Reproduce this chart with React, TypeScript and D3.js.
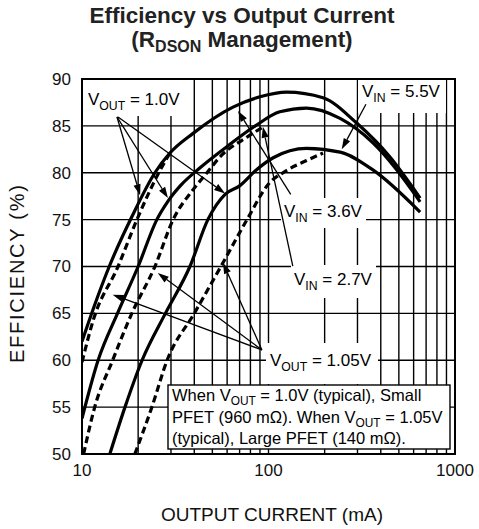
import React from "react";
import * as d3 from "d3";

// axis ticks
const xTickLabels = [10, 100, 1000];
const yTickLabels = [50, 55, 60, 65, 70, 75, 80, 85, 90];
const xGrid = [20, 30, 40, 50, 60, 70, 80, 90, 100, 200, 300, 400, 500, 600, 700, 800, 900];

// VOUT = 1.0V (solid), small PFET
const s27I = [10, 11.5, 14, 18.5, 24.6, 29.6, 39.4, 64.5, 90, 125, 196, 297, 447, 650];
const s27E = [62, 65.5, 70, 75.3, 80, 82.1, 84.2, 87, 88.1, 88.6, 88, 85.3, 81.7, 77.3];
const s36I = [10, 12.2, 15.5, 20, 25.2, 29, 34, 42.8, 60, 85, 115, 160, 242, 363, 650];
const s36E = [53.8, 60, 65, 70, 75, 77, 78.7, 80.5, 82.8, 85, 86.5, 86.9, 85.8, 83.2, 76.9];
const s55I = [14.1, 17, 21, 28, 37.9, 47.3, 58.5, 70, 86, 106, 160, 242, 363, 650];
const s55E = [50, 55, 60, 65, 70, 75, 77.7, 78.6, 80.3, 81.6, 82.6, 82.2, 80.3, 75.8];

// VOUT = 1.05V (dashed), large PFET
const d27I = [10, 11.5, 15.6, 19.7, 25.8, 29.6];
const d27E = [59.8, 64.3, 70, 75, 80, 82.1];
const d36I = [10.2, 11.7, 14.6, 18.5, 24.6, 30.8, 39.4, 46.8, 55, 76.7, 92];
const d36E = [50, 55, 60, 65, 70, 75, 78.2, 80, 81.7, 83.8, 84.8];
const d55I = [19.2, 23.7, 28.6, 40, 57, 76.7, 100, 124, 160, 196];
const d55E = [50, 55, 60, 65, 70.4, 75, 78.8, 80.2, 81.3, 82.1];

const curves = [
  { i: s27I, e: s27E, dash: false },
  { i: s36I, e: s36E, dash: false },
  { i: s55I, e: s55E, dash: false },
  { i: d27I, e: d27E, dash: true },
  { i: d36I, e: d36E, dash: true },
  { i: d55I, e: d55E, dash: true },
];

// annotation arrows: [fromI, fromE, toI, toE]
const arrowsVout10 = [[15.4, 85.95, 20.5, 77.6], [15.4, 85.95, 28.9, 77.3], [15.6, 85.95, 58.5, 77.8]];
const arrowsVout105 = [[92.2, 61.1, 14.6, 67.0], [92.2, 61.1, 25.5, 69.3], [92.2, 61.1, 57, 70.4]];
const arrowsVin55 = [[333, 87.3, 247, 82.5]];
const arrowsVin36 = [[131.6, 77.7, 68.6, 86.6]];
const arrowsVin27 = [[135, 70.05, 93.3, 84.9]];

const FONT = "'Liberation Sans', Arial, Helvetica, sans-serif";

const Arrow = ({ x1, y1, x2, y2 }) => {
  const a = Math.atan2(y2 - y1, x2 - x1);
  const L = 11, w = 3.6;
  const bx = x2 - L * Math.cos(a), by = y2 - L * Math.sin(a);
  const pts = [
    [x2, y2],
    [bx + w * Math.sin(a), by - w * Math.cos(a)],
    [bx - w * Math.sin(a), by + w * Math.cos(a)],
  ];
  return (
    <g>
      <line x1={x1} y1={y1} x2={bx} y2={by} stroke="#000" strokeWidth={1.3} />
      <polygon points={pts.map((p) => p.join(",")).join(" ")} fill="#000" />
    </g>
  );
};

const SubLabel = ({ x, y, main, sub, rest, size = 17, shift = 5 }) => (
  <text x={x} y={y} fontSize={size}>
    {main}
    <tspan fontSize={size * 0.72} dy={shift}>{sub}</tspan>
    <tspan dy={-shift}>{rest}</tspan>
  </text>
);

export default function App() {
  const width = 479, height = 529;
  const left = 82, right = 455, top = 79, bottom = 454;

  const x = d3.scaleLog().domain([10, 1000]).range([left, right]);
  const y = d3.scaleLinear().domain([50, 90]).range([bottom, top]);

  const line = d3
    .line()
    .x((d) => x(d[0]))
    .y((d) => y(d[1]))
    .curve(d3.curveMonotoneX);

  const arrows = (list) =>
    list.map((a, k) => <Arrow key={k} x1={x(a[0])} y1={y(a[1])} x2={x(a[2])} y2={y(a[3])} />);

  return (
    <svg width={width} height={height} style={{ position: "absolute", left: 0, top: 0, background: "#fff" }} fontFamily={FONT}>
      <defs>
        <clipPath id="plot">
          <rect x={left} y={top} width={right - left} height={bottom - top} />
        </clipPath>
      </defs>

      {/* title */}
      <text x={242} y={23} textAnchor="middle" fontSize={22.5} fontWeight="bold" fill="#222">
        Efficiency vs Output Current
      </text>
      <text x={242} y={47} textAnchor="middle" fontSize={22.5} fontWeight="bold" fill="#222">
        (R<tspan fontSize={16} dy={5}>DSON</tspan>
        <tspan dy={-5}> Management)</tspan>
      </text>

      {/* grid */}
      <g stroke="#000" strokeWidth={1.4}>
        {yTickLabels.slice(1, -1).map((v) => (
          <line key={v} x1={left} x2={right} y1={y(v)} y2={y(v)} />
        ))}
        {xGrid.map((v) => (
          <line key={v} x1={x(v)} x2={x(v)} y1={top} y2={bottom} />
        ))}
      </g>

      {/* white label areas */}
      <g fill="#fff">
        <rect x={83} y={80} width={105} height={36} />
        <rect x={358} y={80} width={88} height={33} />
        <rect x={281} y={198} width={85} height={30} />
        <rect x={291} y={265} width={85} height={33} />
        <rect x={266} y={343} width={112} height={41} />
      </g>

      {/* curves */}
      <g clipPath="url(#plot)" fill="none" stroke="#000" strokeWidth={3.2}>
        {curves.map((c, k) => (
          <path
            key={k}
            d={line(c.i.map((v, j) => [v, c.e[j]]))}
            strokeDasharray={c.dash ? "7,4" : null}
          />
        ))}
      </g>

      {/* note box */}
      <rect x={168} y={385} width={282} height={64} fill="#fff" stroke="#000" strokeWidth={1.4} />
      <g fontSize={16.5}>
        <SubLabel x={172} y={401} size={16.5} shift={4} main="When V" sub="OUT" rest=" = 1.0V (typical), Small" />
        <SubLabel x={172} y={423} size={16.5} shift={4} main="PFET (960 mΩ). When V" sub="OUT" rest=" = 1.05V" />
        <text x={172} y={444}>(typical), Large PFET (140 mΩ).</text>
      </g>

      {/* annotations */}
      {arrows(arrowsVout10)}
      {arrows(arrowsVout105)}
      {arrows(arrowsVin55)}
      {arrows(arrowsVin36)}
      {arrows(arrowsVin27)}
      <SubLabel x={88} y={105} main="V" sub="OUT" rest=" = 1.0V" />
      <SubLabel x={362} y={97} main="V" sub="IN" rest=" = 5.5V" />
      <SubLabel x={284} y={217} main="V" sub="IN" rest=" = 3.6V" />
      <SubLabel x={294} y={285} main="V" sub="IN" rest=" = 2.7V" />
      <SubLabel x={270} y={366} main="V" sub="OUT" rest=" = 1.05V" />

      {/* border */}
      <rect x={left} y={top} width={right - left} height={bottom - top} fill="none" stroke="#000" strokeWidth={2} />

      {/* axes labels */}
      <g fontSize={17} fill="#111">
        {yTickLabels.map((v) => (
          <text key={v} x={71} y={y(v)} dy="0.35em" textAnchor="end">{v}</text>
        ))}
        {xTickLabels.map((v) => (
          <text key={v} x={x(v)} y={476} textAnchor="middle">{v}</text>
        ))}
      </g>
      <text x={272} y={521} textAnchor="middle" fontSize={19} fill="#111">OUTPUT CURRENT (mA)</text>
      <text
        transform="translate(24,274) rotate(-90)"
        textAnchor="middle"
        fontSize={20}
        textLength={178}
        lengthAdjust="spacing"
        fill="#111"
      >
        EFFICIENCY (%)
      </text>
    </svg>
  );
}
